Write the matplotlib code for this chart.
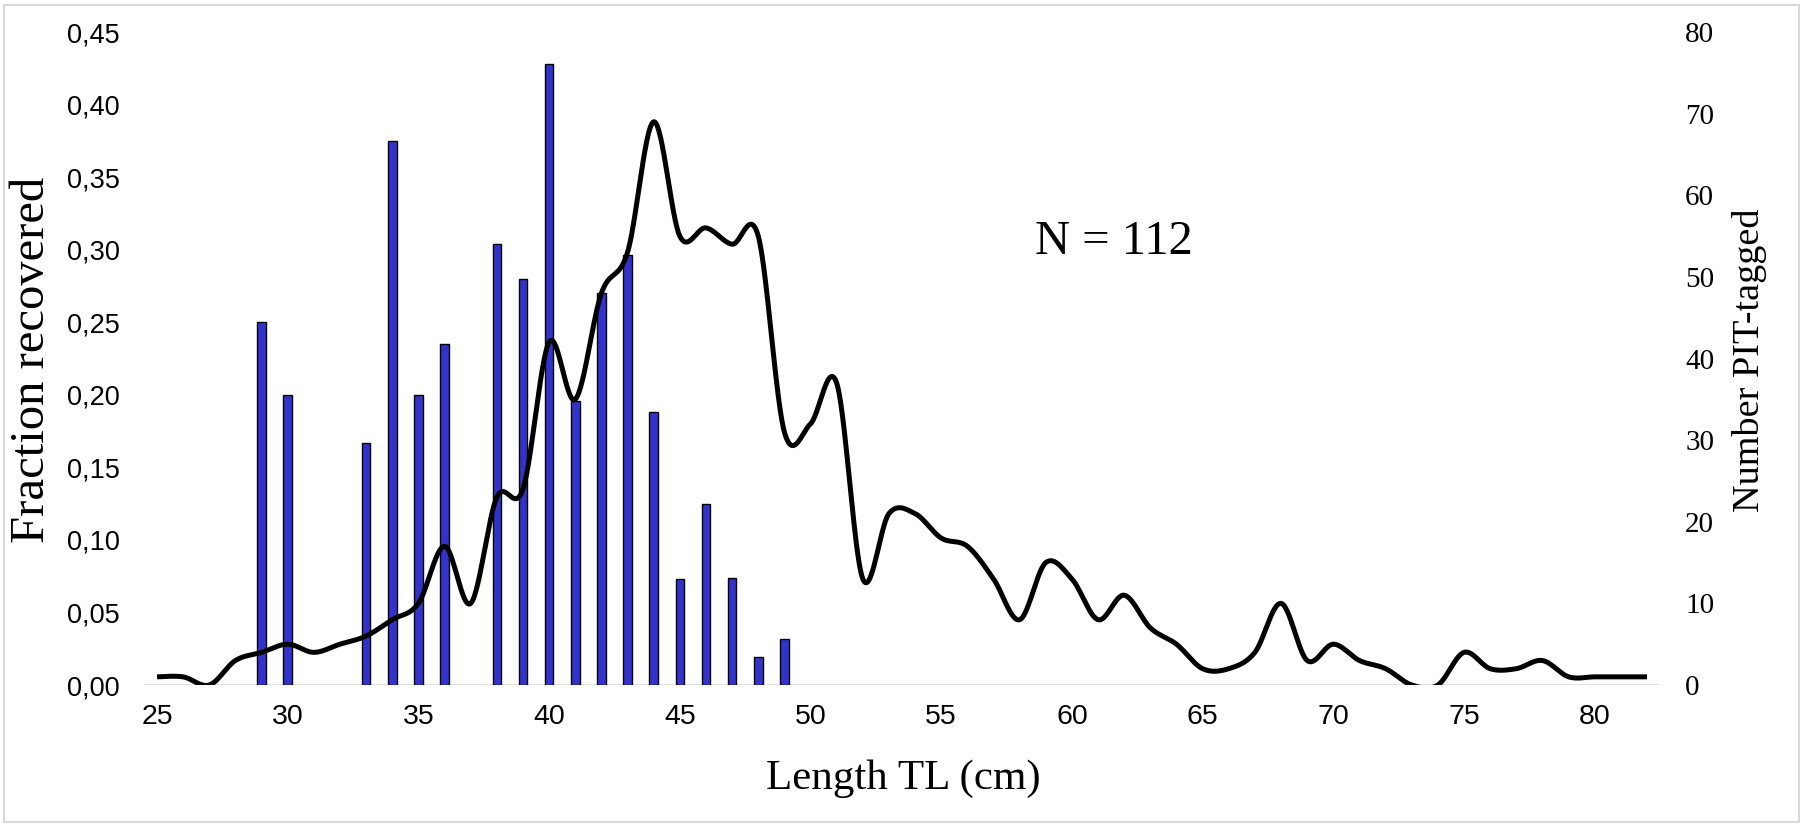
import numpy as np
import matplotlib
matplotlib.use("Agg")
import matplotlib.pyplot as plt
import matplotlib.patches as mpatches
from matplotlib.ticker import FuncFormatter

# length classes (cm TL) and number of fish PIT-tagged in each
lengths = list(range(25, 83))
n_tagged = [1, 1, 0, 3, 4, 5, 4, 5, 6, 8,
            10, 17, 10, 23, 24, 42, 35, 48, 53, 69,
            55, 56, 54, 55, 31, 32, 37, 13, 21, 21,
            18, 17, 13, 8, 15, 13, 8, 11, 7, 5,
            2, 2, 4, 10, 3, 5, 3, 2, 0, 0,
            4, 2, 2, 3, 1, 1, 1, 1]

# fraction of tagged fish recovered per length class
rec_lengths = [29, 30, 33, 34, 35, 36, 38, 39, 40, 41, 42, 43, 44, 45, 46, 47, 48, 49]
frac_recovered = [0.250, 0.200, 0.167, 0.375, 0.200, 0.235, 0.304, 0.280, 0.428,
                  0.196, 0.270, 0.296, 0.188, 0.073, 0.125, 0.074, 0.019, 0.032]

serif = "Liberation Serif"
sans = "Liberation Sans"


def smooth_curve(x, y, steps=30):
    # Catmull-Rom style smoothing, as used for spreadsheet "smoothed lines"
    x = np.asarray(x, float)
    y = np.asarray(y, float)
    px = np.concatenate([[x[0]], x, [x[-1]]])
    py = np.concatenate([[y[0]], y, [y[-1]]])
    xs, ys = [], []
    t = np.linspace(0, 1, steps, endpoint=False)
    for i in range(1, len(px) - 2):
        p0x, p1x, p2x, p3x = px[i - 1], px[i], px[i + 1], px[i + 2]
        p0y, p1y, p2y, p3y = py[i - 1], py[i], py[i + 1], py[i + 2]
        c1x, c1y = p1x + (p2x - p0x) / 6, p1y + (p2y - p0y) / 6
        c2x, c2y = p2x - (p3x - p1x) / 6, p2y - (p3y - p1y) / 6
        b = [(1 - t) ** 3, 3 * (1 - t) ** 2 * t, 3 * (1 - t) * t ** 2, t ** 3]
        xs.append(b[0] * p1x + b[1] * c1x + b[2] * c2x + b[3] * p2x)
        ys.append(b[0] * p1y + b[1] * c1y + b[2] * c2y + b[3] * p2y)
    xs.append([x[-1]])
    ys.append([y[-1]])
    return np.concatenate(xs), np.concatenate(ys)


fig = plt.figure(figsize=(18.06, 8.27), dpi=100)
ax = fig.add_axes([0.0797, 0.1717, 0.8395, 0.7896])
ax2 = ax.twinx()

ax.bar(rec_lengths, frac_recovered, width=0.33, color="#3333cc",
       edgecolor="black", linewidth=1.0, zorder=2)

sx, sy = smooth_curve(lengths, n_tagged)
ax2.plot(sx, sy, color="black", linewidth=3.6, solid_capstyle="butt")

ax.set_xlim(24.5, 82.5)
ax.set_ylim(0, 0.45)
ax2.set_ylim(0, 80)

ax.set_xticks(range(25, 81, 5))
ax.set_yticks(np.arange(0, 0.451, 0.05))
ax2.set_yticks(range(0, 81, 10))
ax.yaxis.set_major_formatter(FuncFormatter(lambda v, p: f"{v:.2f}".replace(".", ",")))

for a in (ax, ax2):
    for s in a.spines.values():
        s.set_visible(False)
    a.tick_params(length=0)
ax.axhline(0, color="#d9d9d9", linewidth=1.8, zorder=1)

ax.tick_params(axis="x", pad=14, labelsize=20.5)
ax.tick_params(axis="y", pad=17.5, labelsize=19.5)
ax2.tick_params(axis="y", pad=18, labelsize=21)
for lab in ax.get_xticklabels() + ax.get_yticklabels():
    lab.set_fontfamily(sans)
for lab in ax2.get_yticklabels():
    lab.set_fontfamily(serif)

fig.text(0.0177, 0.5646, "Fraction recovered", rotation=90, ha="center", va="center",
         fontsize=35, family=serif)
fig.text(0.9686, 0.5646, "Number PIT-tagged", rotation=90, ha="center", va="center",
         fontsize=27.5, family=serif)
fig.text(0.5, 0.058, "Length TL (cm)", ha="center", va="center",
         fontsize=31, family=serif)
ax.text(0.6396, 0.678, "N = 112", transform=ax.transAxes, ha="center", va="center",
        fontsize=35, family=serif)

# light frame around the chart area
fig.patches.append(mpatches.Rectangle((0.002, 0.006), 0.994, 0.988, transform=fig.transFigure,
                                      fill=False, edgecolor="#d9d9d9", linewidth=1.5))

fig.savefig("out.png", dpi=100)
